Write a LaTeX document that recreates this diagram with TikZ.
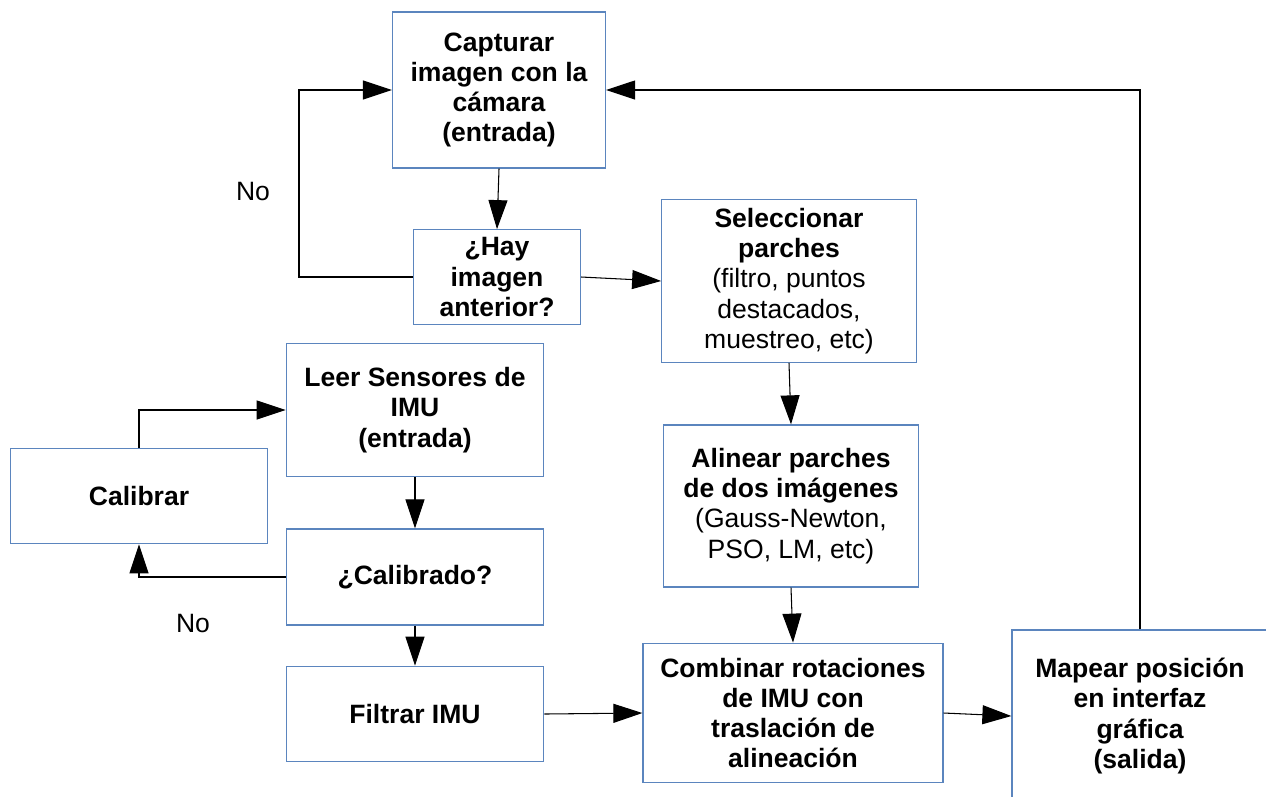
\documentclass[tikz,border=0pt]{standalone}
\usepackage{fontspec}
\setmainfont{Liberation Sans}
\usetikzlibrary{arrows.meta,positioning}
\definecolor{bordeazul}{RGB}{91,133,190}

\begin{document}
\begin{tikzpicture}[x=0.02cm, y=-0.02cm, font=\fontsize{15.1}{17.2}\selectfont,
		bloque/.style={draw=bordeazul, line width=0.75pt, align=center, inner sep=0pt, font=\fontsize{15.1}{17.2}\selectfont\bfseries},
		flecha/.style={line width=0.6pt, -{Triangle[length=0.58cm,width=0.38cm]}}]
	\useasboundingbox (0,0) rectangle (1266,796);
	\clip (0,0) rectangle (1266,796);
	\node[bloque, minimum width=4.26cm, minimum height=3.12cm] (captura) at (499,90) {Capturar\\imagen con la\\cámara\\(entrada)};
	\node[bloque, minimum width=3.34cm, minimum height=1.89cm] (hayimg) at (497,277) {¿Hay\\imagen\\anterior?};
	\node[bloque, minimum width=5.09cm, minimum height=3.25cm] (parches) at (789,281) {Seleccionar\\parches\\\textmd{(filtro, puntos}\\\textmd{destacados,}\\\textmd{muestreo, etc)}};
	\node[bloque, minimum width=5.15cm, minimum height=2.65cm] (leer) at (415,410) {Leer Sensores de\\IMU\\(entrada)};
	\node[bloque, minimum width=5.13cm, minimum height=1.91cm] (calibrar) at (139,496) {Calibrar};
	\node[bloque, minimum width=5.15cm, minimum height=1.92cm] (calibrado) at (415,577) {¿Calibrado?};
	\node[bloque, minimum width=5.15cm, minimum height=1.91cm] (filtrar) at (415,714) {Filtrar IMU};
	\node[bloque, minimum width=5.10cm, minimum height=3.24cm] (alinear) at (791,506) {Alinear parches\\de dos imágenes\\\textmd{(Gauss-Newton,}\\\textmd{PSO, LM, etc)}};
	\node[bloque, minimum width=6.00cm, minimum height=2.79cm] (combinar) at (793,713) {Combinar rotaciones\\de IMU con\\traslación de\\alineación};
	\node[bloque, minimum width=5.12cm, minimum height=3.44cm] (mapear) at (1140,716) {Mapear posición\\en interfaz\\gráfica\\(salida)};
	\node (nocam) at (253,191) {No};
	\node (noimu) at (193,623) {No};
	\coordinate (giro) at (299,277);
	\draw[flecha] (captura.south) -- (hayimg.north);
	\draw[flecha] (hayimg.west) -- (giro) |- (captura.west);
	\draw[flecha] (hayimg.east) -- (parches.west);
	\draw[flecha] (parches.south) -- (alinear.north);
	\draw[flecha] (alinear.south) -- (combinar.north);
	\draw[flecha] (leer.south) -- (calibrado.north);
	\draw[flecha] (calibrado.south) -- (filtrar.north);
	\draw[flecha] (calibrado.west) -| (calibrar.south);
	\draw[flecha] (calibrar.north) |- (leer.west);
	\draw[flecha] (filtrar.east) -- (combinar.west);
	\draw[flecha] (combinar.east) -- (mapear.west);
	\draw[flecha] (mapear.north) |- (captura.east);
\end{tikzpicture}
\end{document}
